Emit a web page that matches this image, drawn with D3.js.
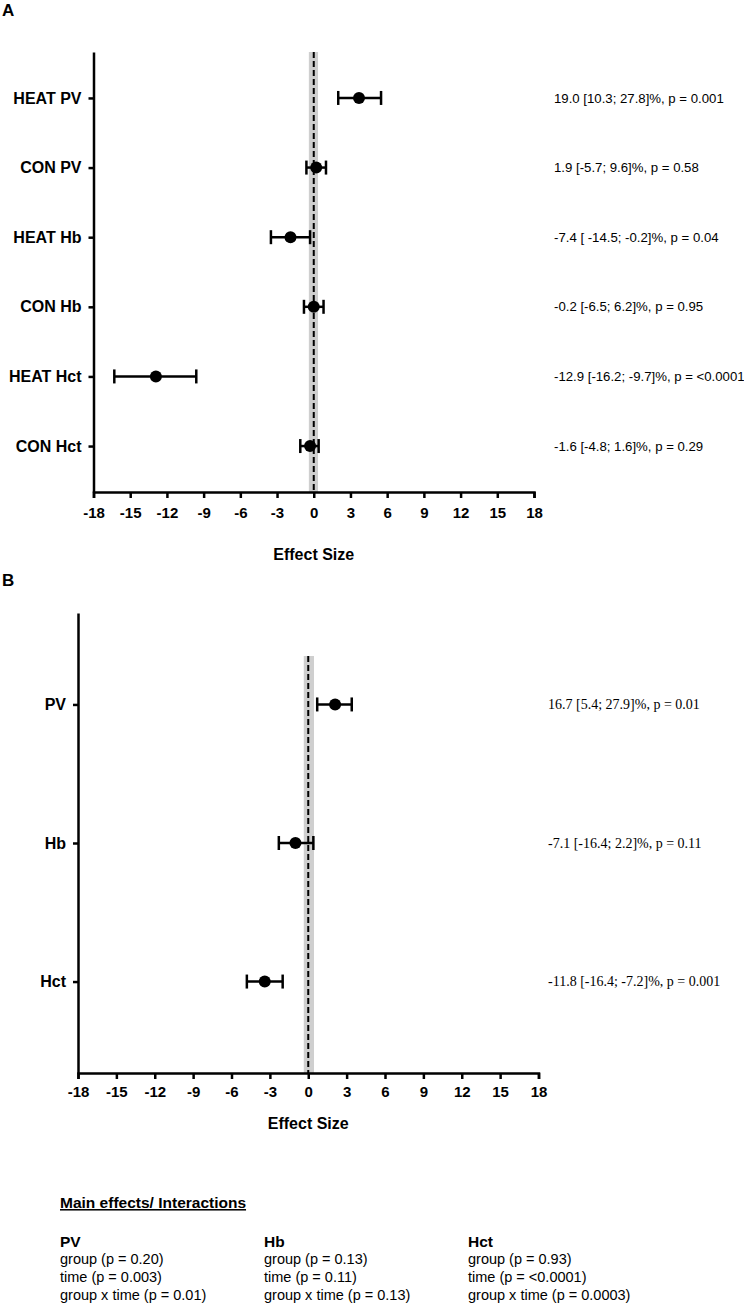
<!DOCTYPE html>
<html>
<head>
<meta charset="utf-8">
<script src="https://cdn.jsdelivr.net/npm/d3@7"></script>
<style>
  body { margin: 0; background: #fff; }
  svg { display: block; }
  .lbl { font-family: "Liberation Sans", Arial, sans-serif; font-weight: bold; }
</style>
</head>
<body>
<svg id="canvas" width="744" height="1305"></svg>
<script>
// panel A data
const labelsA = ["HEAT PV", "CON PV", "HEAT Hb", "CON Hb", "HEAT Hct", "CON Hct"];
const meanA = [3.7, 0.2, -1.9, 0.0, -12.9, -0.3];
const lowA = [2.0, -0.6, -3.5, -0.8, -16.3, -1.1];
const highA = [5.5, 1.0, -0.3, 0.8, -9.6, 0.4];
const notesA = [
  "19.0 [10.3; 27.8]%, p = 0.001",
  "1.9 [-5.7; 9.6]%, p = 0.58",
  "-7.4 [ -14.5; -0.2]%, p = 0.04",
  "-0.2 [-6.5; 6.2]%, p = 0.95",
  "-12.9 [-16.2; -9.7]%, p = <0.0001",
  "-1.6 [-4.8; 1.6]%, p = 0.29"
];
const bandA = [-0.4, 0.35];

// panel B data
const labelsB = ["PV", "Hb", "Hct"];
const meanB = [2.1, -1.0, -3.4];
const lowB = [0.7, -2.3, -4.8];
const highB = [3.4, 0.4, -2.0];
const notesB = [
  "16.7 [5.4; 27.9]%, p = 0.01",
  "-7.1 [-16.4; 2.2]%, p = 0.11",
  "-11.8 [-16.4; -7.2]%, p = 0.001"
];
const bandB = [-0.35, 0.45];

const xTicks = [-18, -15, -12, -9, -6, -3, 0, 3, 6, 9, 12, 15, 18];

// main effects table
const effectHeads = ["PV", "Hb", "Hct"];
const effectRows = [
  ["group (p = 0.20)", "time (p = 0.003)", "group x time (p = 0.01)"],
  ["group (p = 0.13)", "time (p = 0.11)", "group x time (p = 0.13)"],
  ["group (p = 0.93)", "time (p = <0.0001)", "group x time (p = 0.0003)"]
];

const svg = d3.select("#canvas");

function drawForest(cfg) {
  const g = svg.append("g");
  const x = d3.scaleLinear().domain([-18, 18]).range(cfg.xRange);
  const y = d3.scalePoint().domain(cfg.labels).range(cfg.yRange).padding(0.66);
  const bottom = cfg.yRange[1];
  const rows = cfg.labels.map((l, i) => ({ label: l, m: cfg.mean[i], lo: cfg.low[i], hi: cfg.high[i], note: cfg.notes[i] }));

  // grey band + dashed zero line
  g.append("rect")
    .attr("x", x(cfg.band[0]))
    .attr("y", cfg.bandTop)
    .attr("width", x(cfg.band[1]) - x(cfg.band[0]))
    .attr("height", bottom - cfg.bandTop)
    .attr("fill", "#cfcfcf");
  g.append("line")
    .attr("x1", x(0)).attr("x2", x(0))
    .attr("y1", cfg.bandTop).attr("y2", bottom)
    .attr("stroke", "#000").attr("stroke-width", 2)
    .attr("stroke-dasharray", "6,3");

  // x axis
  const xa = g.append("g")
    .attr("transform", `translate(0,${bottom})`)
    .call(d3.axisBottom(x).tickValues(xTicks).tickSize(6).tickPadding(cfg.tickPad).tickFormat(d => String(d)));
  xa.select(".domain").attr("stroke-width", 2.5);
  xa.selectAll(".tick line").attr("stroke-width", 2.5);
  xa.selectAll("text").attr("class", "lbl").attr("font-size", 15).attr("fill", "#000");

  // y axis
  const ya = g.append("g")
    .attr("transform", `translate(${cfg.xRange[0]},0)`)
    .call(d3.axisLeft(y).tickSize(5).tickPadding(7).tickSizeOuter(0));
  ya.select(".domain").attr("stroke-width", 2.5);
  ya.selectAll(".tick line").attr("stroke-width", 2.5);
  ya.selectAll("text").attr("class", "lbl").attr("font-size", 16).attr("fill", "#000");

  // error bars
  const eb = g.selectAll(".eb").data(rows).enter().append("g").attr("class", "eb");
  eb.append("line")
    .attr("x1", d => x(d.lo)).attr("x2", d => x(d.hi))
    .attr("y1", d => y(d.label)).attr("y2", d => y(d.label))
    .attr("stroke", "#000").attr("stroke-width", 2.5);
  ["lo", "hi"].forEach(k => {
    eb.append("line")
      .attr("x1", d => x(d[k])).attr("x2", d => x(d[k]))
      .attr("y1", d => y(d.label) - 7).attr("y2", d => y(d.label) + 7)
      .attr("stroke", "#000").attr("stroke-width", 2.5);
  });
  eb.append("circle")
    .attr("cx", d => x(d.m)).attr("cy", d => y(d.label))
    .attr("r", 6).attr("fill", "#000");

  // right-hand notes
  g.selectAll(".note").data(rows).enter().append("text")
    .attr("x", cfg.noteX).attr("y", d => y(d.label))
    .attr("dy", "0.35em")
    .attr("font-family", cfg.noteFont)
    .attr("font-size", cfg.noteSize)
    .text(d => d.note);

  g.append("text").attr("class", "lbl")
    .attr("x", x(0)).attr("y", cfg.titleY)
    .attr("text-anchor", "middle").attr("font-size", 16)
    .text("Effect Size");

  g.append("text").attr("class", "lbl")
    .attr("x", 2).attr("y", cfg.letterY)
    .attr("font-size", 17)
    .text(cfg.letter);
}

drawForest({
  letter: "A", letterY: 16,
  labels: labelsA, mean: meanA, low: lowA, high: highA, notes: notesA, band: bandA,
  xRange: [93.5, 534], yRange: [52, 492], bandTop: 52, tickPad: 9,
  noteX: 554, noteFont: "Liberation Sans, Arial, sans-serif", noteSize: 13.2,
  titleY: 560
});

drawForest({
  letter: "B", letterY: 586,
  labels: labelsB, mean: meanB, low: lowB, high: highB, notes: notesB, band: bandB,
  xRange: [78, 538.5], yRange: [613, 1073], bandTop: 656, tickPad: 7,
  noteX: 548, noteFont: "Liberation Serif, Times New Roman, serif", noteSize: 14,
  titleY: 1129
});

// main effects / interactions block
const fx = svg.append("g")
  .attr("font-family", "Liberation Sans, Arial, sans-serif")
  .attr("font-size", 14.5);

fx.append("text")
  .attr("x", 60).attr("y", 1208)
  .attr("font-weight", "bold")
  .attr("font-size", 15.5)
  .attr("text-decoration", "underline")
  .text("Main effects/ Interactions");

const colX = [60, 264, 468];
effectHeads.forEach((h, i) => {
  fx.append("text").attr("x", colX[i]).attr("y", 1246.5)
    .attr("font-weight", "bold").attr("font-size", 15.5).text(h);
  effectRows[i].forEach((t, j) => {
    fx.append("text").attr("x", colX[i]).attr("y", 1264 + j * 18).text(t);
  });
});
</script>
</body>
</html>
